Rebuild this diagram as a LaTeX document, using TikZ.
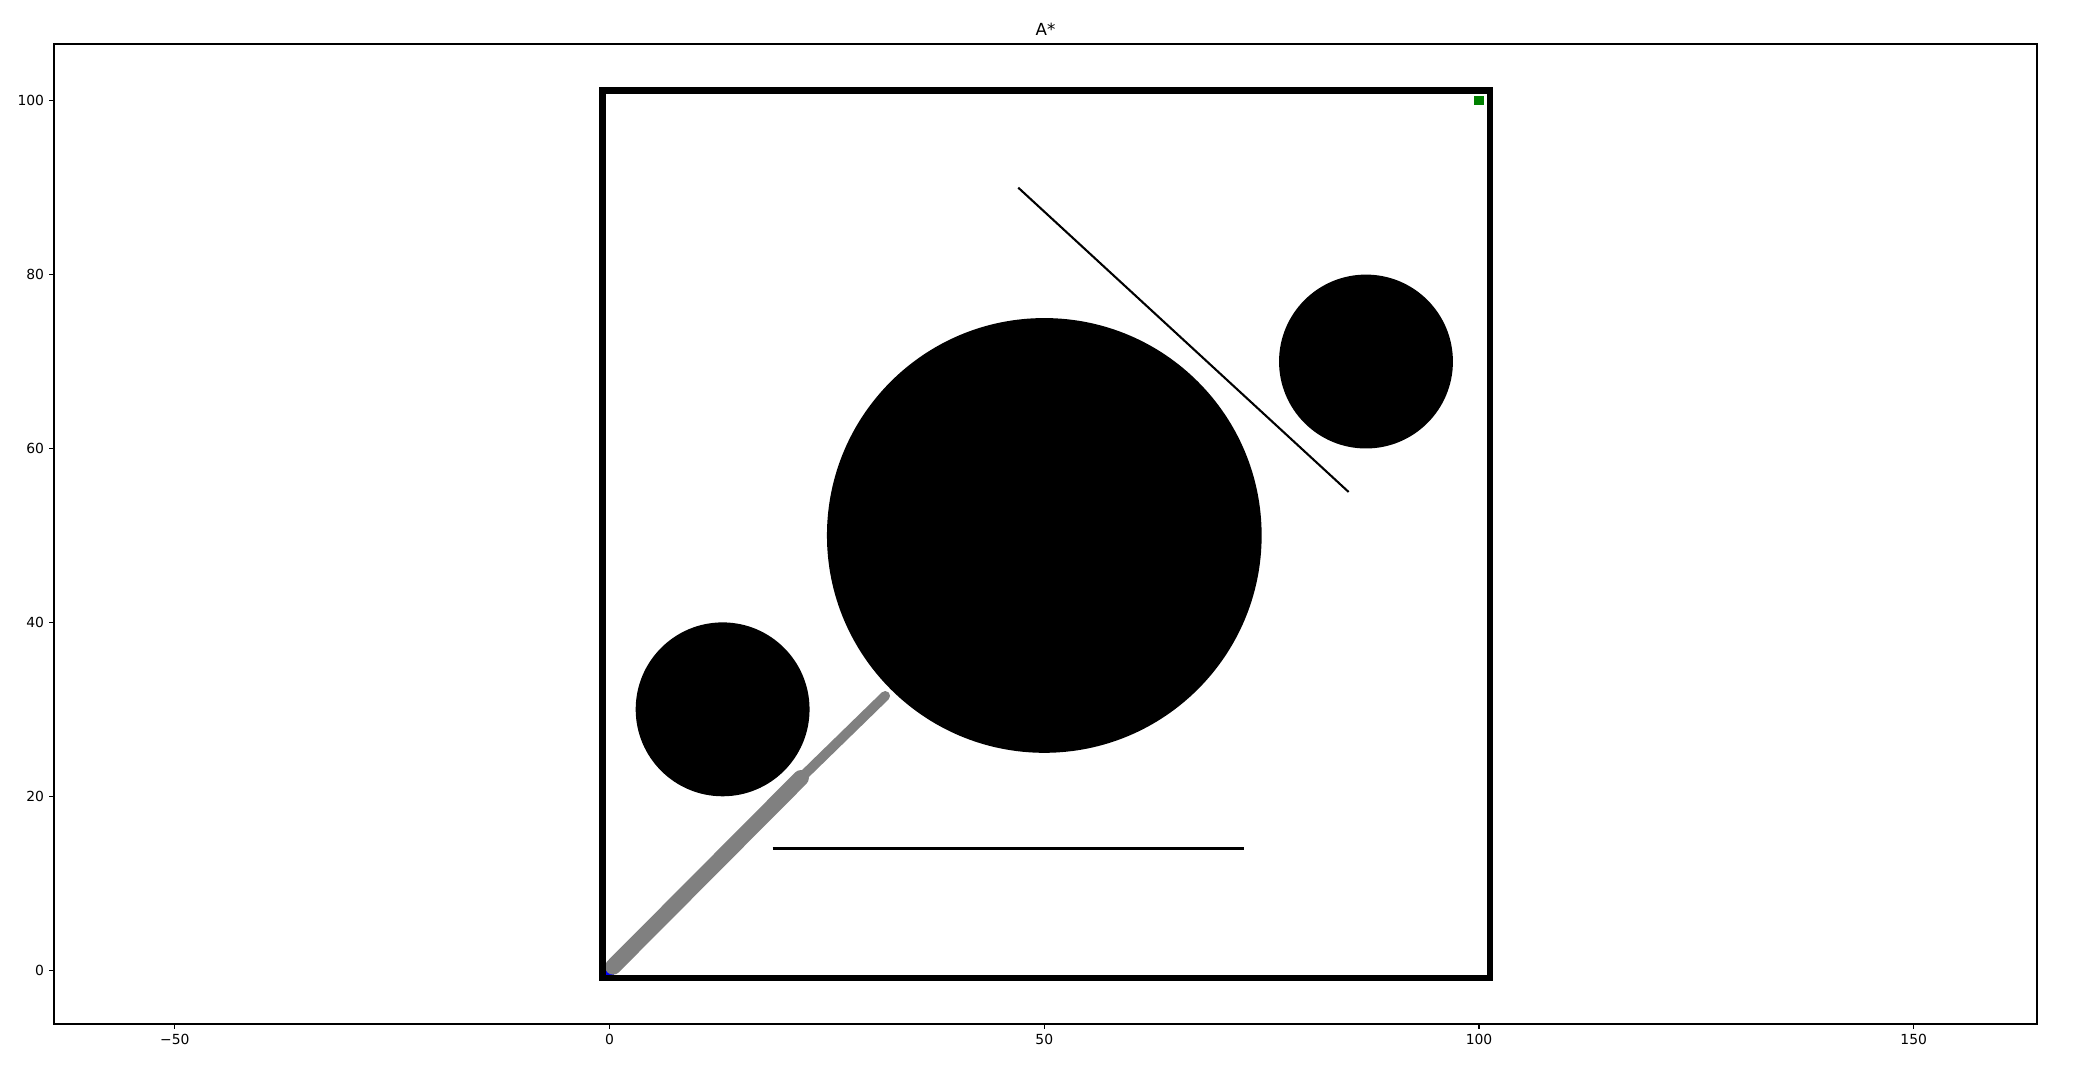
\documentclass[tikz,border=0pt]{standalone}
\usepackage{fontspec}
\setmainfont{DejaVu Sans}
\definecolor{mplgreen}{HTML}{008000}
\definecolor{mplblue}{HTML}{0000FF}
\definecolor{mplgray}{HTML}{808080}
\begin{document}
\begin{tikzpicture}[x=0.72pt,y=0.72pt,
  spine/.style={line width=0.8pt, line cap=rect},
  tickmark/.style={line width=0.8pt},
  ticklab/.style={font=\fontsize{10}{12}\selectfont, inner sep=0pt},
  titlelab/.style={font=\fontsize{12}{14}\selectfont, inner sep=0pt, anchor=base},
  obst/.style={fill=black, draw=none},
  wall/.style={draw=black, line width=4.5pt, line join=miter},
  seg/.style={draw=black, line width=1.5pt},
  thickpath/.style={draw=mplgray, line width=11.5pt, line cap=round},
  thinpath/.style={draw=mplgray, line width=7pt, line cap=round},
  marker/.style={draw=none}]
\useasboundingbox (0,0) rectangle (2078,1090);
\fill[white] (0,0) rectangle (2078,1090);
\begin{scope}[xshift=438.91pt, yshift=86.26pt, x=6.2597pt, y=6.2604pt]
  % axes frame
  \draw[spine] (-63.9,-6.19) rectangle (164.18,106.52);
  % x ticks
  \foreach \v/\t [count=\i] in {-50/{−50},0/0,50/50,100/100,150/150}{
    \draw[tickmark] (\v,-6.19) -- ++(0,-3.5pt);
    \node[ticklab, anchor=north, yshift=-7pt] (xt\i) at (\v,-6.19) {\t};
  }
  % y ticks
  \foreach \v [count=\i] in {0,20,40,60,80,100}{
    \draw[tickmark] (-63.9,\v) -- ++(-3.5pt,0);
    \node[ticklab, anchor=east, xshift=-7pt] (yt\i) at (-63.9,\v) {\v};
  }
  % title
  \node[titlelab, yshift=6pt] (title) at (50.14,106.52) {A*};
  % start marker
  \fill[mplblue, marker] (-0.55,-0.55) rectangle (0.55,0.55);
  % obstacles
  \fill[obst] (50,50) circle (25);
  \fill[obst] (13,30) circle (10);
  \fill[obst] (87,70) circle (10);
  \draw[seg] (47,90) -- (85,55);
  \draw[seg] (18.75,14) -- (73,14);
  % path
  \draw[thickpath] (0.4,0.4) -- (22,22.1);
  \draw[thinpath] (22,22.1) -- (31.7,31.55);
  % boundary
  \draw[wall] (-0.82,-0.9) rectangle (101.22,101.18);
  % goal marker
  \fill[mplgreen, marker] (99.45,99.45) rectangle (100.55,100.55);
\end{scope}
\end{tikzpicture}
\end{document}
